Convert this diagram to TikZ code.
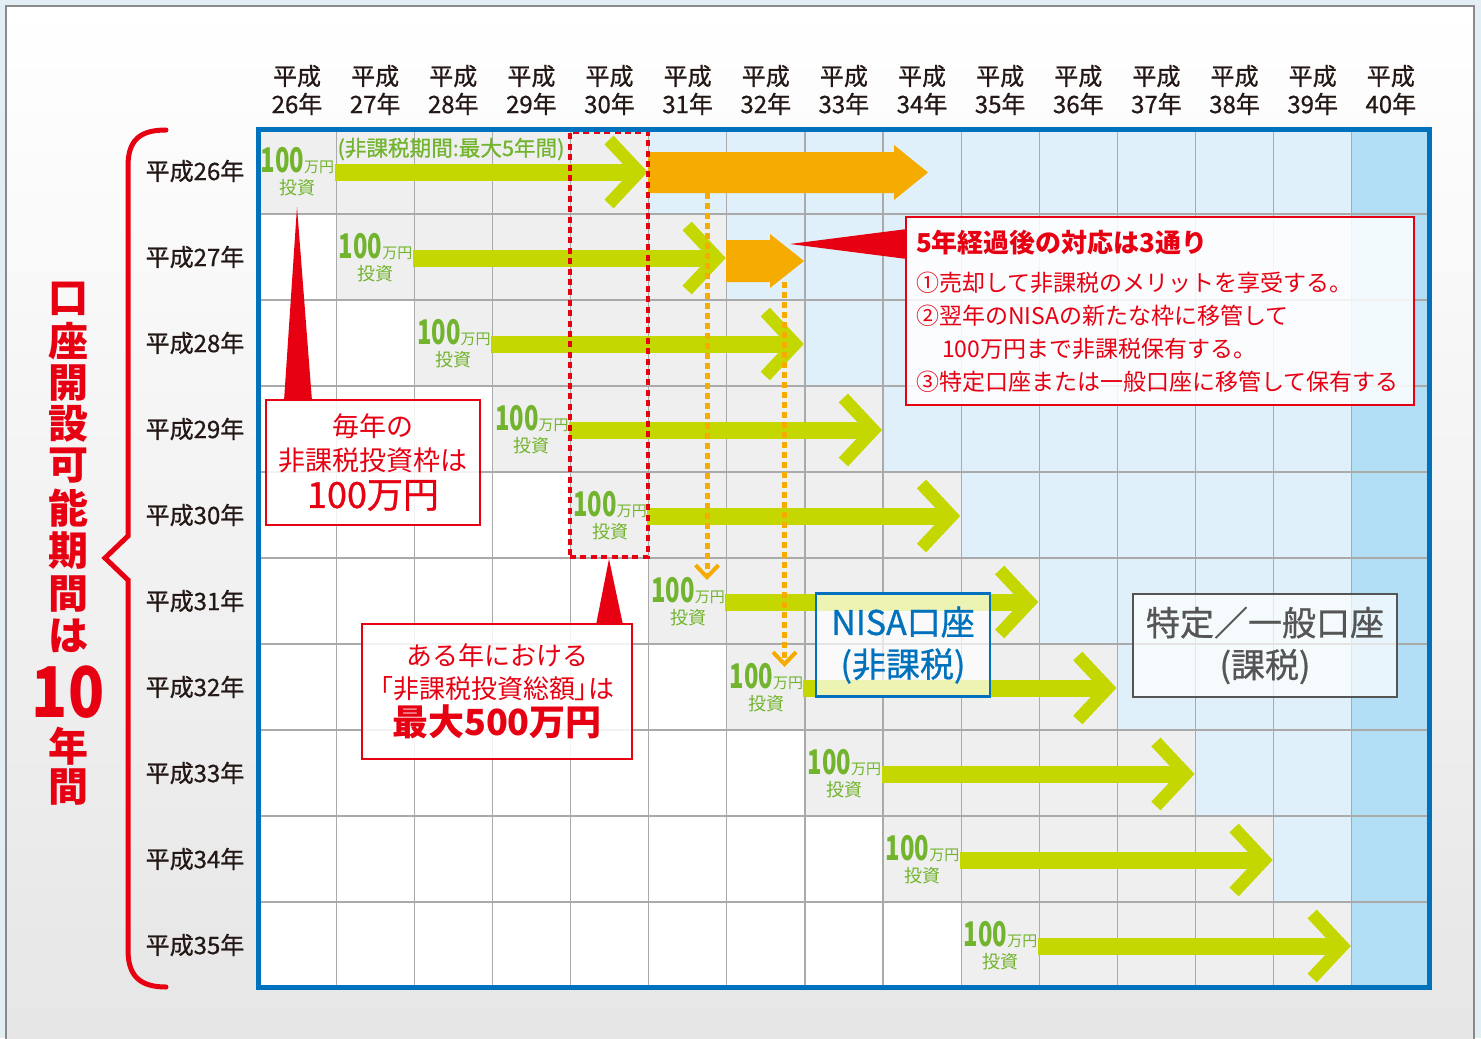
\documentclass[tikz,border=0pt]{standalone}
\usepackage{fontspec}
\setmainfont{Noto Sans CJK JP}
\newfontfamily\cond[FakeStretch=0.7]{Noto Sans CJK JP}
\newfontfamily\condten[FakeStretch=0.85]{Noto Sans CJK JP}
\newfontfamily\palt[RawFeature=+palt]{Noto Sans CJK JP}
\newfontfamily\med[FakeBold=0.8]{Noto Sans CJK JP}
\usetikzlibrary{arrows.meta}

\definecolor{nred}{RGB}{230,0,18}
\definecolor{nblue}{RGB}{0,113,188}
\definecolor{nbar}{RGB}{196,215,0}
\definecolor{ngreen}{RGB}{114,180,45}
\definecolor{norange}{RGB}{246,171,0}
\definecolor{cgray}{RGB}{239,239,239}
\definecolor{clblue}{RGB}{223,240,250}
\definecolor{cdblue}{RGB}{178,223,246}
\definecolor{gline}{RGB}{170,170,170}
\definecolor{ink}{RGB}{35,24,21}
\definecolor{dgray}{RGB}{85,85,85}
\definecolor{bgblue}{RGB}{226,238,244}
\definecolor{frame}{RGB}{138,138,138}

\begin{document}
\begin{tikzpicture}[x=0.5pt, y=-0.5pt,
    bar/.style={nbar, line width=8.5pt},
    chev/.style={nbar, line width=6.3pt, line join=miter},
    dots/.style={norange, line width=2.5pt, dash pattern=on 3pt off 2pt, -{Straight Barb[length=6pt, width=11.5pt, line width=2pt]}},
    inv/.style={inner sep=0pt, align=center, text=ngreen, font=\fontsize{9}{11}\selectfont},
    yearhead/.style={text=ink, align=center, font=\med\fontsize{12}{14}\selectfont},
    yearlbl/.style={text=ink, font=\med\fontsize{12}{14}\selectfont},
    callout/.style={draw=nred, line width=1.2pt, fill=white, fill opacity=0.85, text opacity=1, text=nred, align=center},
    acct/.style={line width=1.3pt, fill=white, fill opacity=0.7, text opacity=1, align=center, font=\med\fontsize{17}{21}\selectfont, minimum height=51.5pt},
    title/.style={text=nred, inner sep=0pt, font=\bfseries\fontsize{20}{20}\selectfont}]

    \useasboundingbox (0, 0) rectangle (1481, 1038);
    \fill[bgblue] (0, 0) rectangle (1481, 1038);
    \shade[top color=white, bottom color=black!10] (6, 6) rectangle (1474, 1050);
    \draw[frame, line width=0.8pt] (6, 1050) -- (6, 6) -- (1474, 6) -- (1474, 1050);

    \foreach \r in {0,...,9}{
        \foreach \c in {0,...,14}{
            \ifnum\c=14 \def\cc{cdblue}\else
                \ifnum\c<\r \def\cc{white}\else
                    \ifnum\c>\numexpr\r+4\relax \def\cc{clblue}\else \def\cc{cgray}\fi
                \fi
            \fi
            \fill[\cc] (258+78.13*\c, 128+86*\r) rectangle ++(78.13, 86);
        }
    }
    \foreach \c in {1,...,14} \draw[gline, line width=0.6pt] (258+78.13*\c, 128) -- (258+78.13*\c, 988);
    \foreach \r in {1,...,9} \draw[gline, line width=0.6pt] (258, 128+86*\r) -- (1430, 128+86*\r);

    \foreach \c [count=\yr from 26] in {0,...,14}
        \node[yearhead] at (297+78.13*\c, 90) (H\yr) {平成\\\yr 年};
    \foreach \r [count=\yr from 26] in {0,...,9}
        \node[yearlbl] at (195, 171+86*\r) (Y\yr) {平成\yr 年};

    \foreach \r in {0,...,9}{
        \node[inv] at (297.5+78.13*\r, 172+86*\r) (I\r) {{\cond\bfseries\fontsize{17}{17}\selectfont 100}{\fontsize{7.5}{8}\selectfont 万円}\\投資};
        \coordinate (E\r) at (639+78.13*\r, 172+86*\r);
        \draw[bar] (I\r.east) -- (E\r);
        \draw[chev] (E\r) ++(-30, -32) -- (E\r) -- ++(-30, 32);
    }
    \node[text=ngreen, inner sep=0pt, font=\med\fontsize{10.8}{12}\selectfont] at (451, 149) (P) {(非課税期間:最大5年間)};

    \fill[norange] (648, 152) -- (894, 152) -- (894, 145) -- (928, 172.5) -- (894, 200) -- (894, 193) -- (648, 193) -- cycle;
    \fill[norange] (726, 240) -- (770, 240) -- (770, 234) -- (804, 261) -- (770, 288) -- (770, 282) -- (726, 282) -- cycle;
    \coordinate (D1) at (707, 193);
    \coordinate (D2) at (707, 580);
    \coordinate (D3) at (784.5, 282);
    \coordinate (D4) at (784.5, 667);
    \draw[dots] (D1) -- (D2);
    \draw[dots] (D3) -- (D4);

    \node[draw=nred, line width=2pt, dash pattern=on 3pt off 2.2pt, inner sep=0pt, minimum width=39pt, minimum height=212.5pt] at (609, 344.5) (R) {};

    \draw[nblue, line width=2.5pt] (258.5, 129) rectangle (1429.5, 987.5);

    \fill[nred] (297, 207) -- (312, 401) -- (284, 401) -- cycle;
    \node[callout, font=\fontsize{13.5}{17}\selectfont, minimum width=107pt, minimum height=62.5pt] at (373, 462.5) (A) {毎年の\\非課税投資枠は\\[1.5pt]{\med\fontsize{18}{18}\selectfont 100万円}};

    \fill[nred] (R.south) -- (623, 625) -- (596, 625) -- cycle;
    \node[callout, font=\fontsize{13}{16.5}\selectfont, minimum width=135pt, minimum height=67.5pt] at (497, 691.5) (B) {ある年における\\{\palt「非課税投資総額」は}\\[1pt]{\bfseries\fontsize{18}{18}\selectfont 最大500万円}};

    \fill[nred] (790, 244) -- (907, 229) -- (907, 259) -- cycle;
    \node[callout, align=left, font=\fontsize{11.5}{16.5}\selectfont, minimum width=254pt, minimum height=94pt, text width=244pt] at (1160, 311) (C) {{\bfseries\fontsize{13}{13}\selectfont 5年経過後の対応は3通り}\\[3pt]①売却して非課税のメリットを享受する。\\②翌年のNISAの新たな枠に移管して\\\hspace*{13pt}100万円まで非課税保有する。\\③特定口座または一般口座に移管して保有する};

    \node[acct, draw=nblue, text=nblue, minimum width=87pt] at (903, 645) (N) {NISA口座\\(非課税)};
    \node[acct, draw=dgray, text=dgray, minimum width=132pt] at (1265, 645.5) (T) {特定／一般口座\\(課税)};

    \draw[nred, line width=2.5pt, line cap=round] (166, 130) .. controls (140, 130) and (128, 140) .. (128, 166) -- (128, 536) -- (105, 558) -- (128, 580) -- (128, 950) .. controls (128, 976) and (140, 987) .. (166, 987);

    \foreach \ch/\yy [count=\k] in {口/299, 座/341, 開/383, 設/424, 可/466, 能/508, 期/551, 間/594, は/636}
        \node[title] at (68, \yy) (V\k) {\ch};
    \node[title, font=\condten\bfseries\fontsize{35}{35}\selectfont] at (68, 692) (V10) {10};
    \node[title] at (68, 746) (V11) {年};
    \node[title] at (68, 787) (V12) {間};

\end{tikzpicture}
\end{document}
